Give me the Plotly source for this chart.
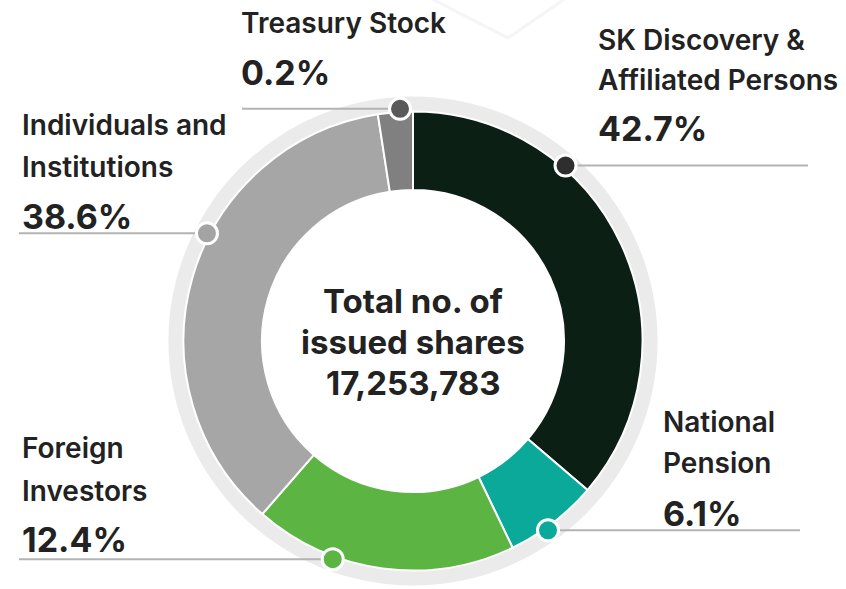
import plotly.graph_objects as go
import math

# ---- data ----
categories = ["SK Discovery &<br>Affiliated Persons", "National<br>Pension", "Foreign<br>Investors",
              "Individuals and<br>Institutions", "Treasury Stock"]
pct_labels = ["42.7%", "6.1%", "12.4%", "38.6%", "0.2%"]
# slice sizes as drawn in the picture (share of the full circle, %)
drawn_share = [36.25, 6.6, 18.55, 36.15, 2.45]
slice_colors = ["#0b1f15", "#0aa99a", "#5cb543", "#a6a6a6", "#808080"]
dot_colors = ["#2e2e2e", "#0aa99a", "#5cb543", "#a3a3a3", "#5a5a5a"]
center_lines = ["Total no. of", "issued shares", "17,253,783"]

W, H = 846, 589
CX, CY = 413, 341
R = 229.5
R_RING = 244.5
R_HOLE = 151
R_DOT = 232.5


def px(x):
    return x / W


def py(y):
    return 1 - y / H


def dom(r):
    return dict(x=[px(CX - r), px(CX + r)], y=[py(CY + r), py(CY - r)])


fig = go.Figure()
# outer light ring
fig.add_trace(go.Pie(values=[1], domain=dom(R_RING), hole=(R - 10) / R_RING,
                     marker=dict(colors=["#ebebeb"], line=dict(width=0)),
                     textinfo="none", hoverinfo="skip", sort=False))
# main donut
fig.add_trace(go.Pie(labels=[c.replace("<br>", " ") for c in categories], values=drawn_share,
                     domain=dom(R), hole=R_HOLE / R, sort=False, direction="clockwise",
                     rotation=0, marker=dict(colors=slice_colors, line=dict(color="white", width=2)),
                     textinfo="none", hoverinfo="label"))

shapes = []
annotations = []

# faint decorative background lines
shapes.append(dict(type="path", xref="paper", yref="paper", layer="below",
                   path=f"M {px(430)},{py(-2)} L {px(508)},{py(38)} L {px(566)},{py(-2)}",
                   line=dict(color="#f5f5f5", width=3)))

# label layout: (dot angle clockwise from 12 o'clock, line end x, text x, name y, pct y)
label_layout = [
    (41.0, 808, 596, [40, 80], 129),
    (144.5, 800, 661, [422, 463], 513),
    (200.2, 19, 20, [448, 491], 539),
    (297.6, 19, 20, [125, 167], 216),
    (356.8, 242, 239, [23], 72),
]

for i, (ang, lx, tx, name_ys, pct_y) in enumerate(label_layout):
    a = math.radians(ang)
    dot_x = CX + R_DOT * math.sin(a)
    ly = CY - R_DOT * math.cos(a)
    # leader line
    shapes.append(dict(type="line", xref="paper", yref="paper", layer="above",
                       x0=px(min(dot_x, lx)), x1=px(max(dot_x, lx)), y0=py(ly), y1=py(ly),
                       line=dict(color="#b3b3b3", width=2)))
    # dot
    r = 10.5
    shapes.append(dict(type="circle", xref="paper", yref="paper", layer="above",
                       x0=px(dot_x - r), x1=px(dot_x + r), y0=py(ly + r), y1=py(ly - r),
                       fillcolor=dot_colors[i], line=dict(color="white", width=3)))
    names = categories[i].split("<br>")
    for nm, ny in zip(names, name_ys):
        annotations.append(dict(text=nm, x=px(tx), y=py(ny), xref="paper", yref="paper",
                                xanchor="left", yanchor="middle", showarrow=False,
                                font=dict(family="Inter", size=28, color="#222222", weight=600)))
    annotations.append(dict(text=pct_labels[i], x=px(tx), y=py(pct_y), xref="paper", yref="paper",
                            xanchor="left", yanchor="middle", showarrow=False,
                            font=dict(family="Inter", size=34, color="#222222", weight=700)))

for t, cy in zip(center_lines, [301, 342, 383]):
    annotations.append(dict(text=t, x=px(CX), y=py(cy), xref="paper", yref="paper",
                            xanchor="center", yanchor="middle", showarrow=False,
                            font=dict(family="Inter", size=33, color="#222222", weight=700)))

fig.update_layout(width=W, height=H, margin=dict(l=0, r=0, t=0, b=0),
                  paper_bgcolor="white", plot_bgcolor="white", showlegend=False,
                  shapes=shapes, annotations=annotations)

fig.write_html("out.html", config={"displayModeBar": False},
               post_script="document.body.style.margin='0';document.body.style.overflow='hidden';")
